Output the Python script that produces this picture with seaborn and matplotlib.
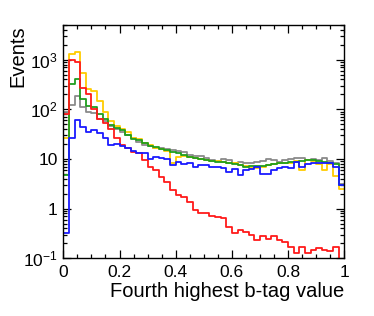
import numpy as np
import pandas as pd
import matplotlib
matplotlib.use("Agg")
import matplotlib.pyplot as plt
import matplotlib.ticker as mticker
import seaborn as sns

# 50 bins of width 0.02 on [0, 1]
edges = np.linspace(0.0, 1.0, 51)
centers = 0.5 * (edges[:-1] + edges[1:])

red = [80, 980, 910, 265, 204, 100, 64, 54, 40, 26,
       19, 17, 14, 13, 9.5, 7.0, 6.0, 4.4, 3.5, 2.4,
       1.9, 1.75, 1.38, 0.94, 0.83, 0.80, 0.71, 0.69, 0.64, 0.43,
       0.32, 0.37, 0.34, 0.30, 0.23, 0.28, 0.25, 0.28, 0.23, 0.21,
       0.17, 0.13, 0.17, 0.13, 0.15, 0.16, 0.15, 0.14, 0.17, 0.01]

yellow = [26, 1280, 1430, 547, 256, 234, 149, 90, 58, 46,
          40, 35, 27, 25, 21, 19, 16.4, 15.6, 14.7, 8.5,
          11, 11.5, 11, 10.5, 10, 9.5, 9, 9, 8.8, 8.5,
          8.2, 7.5, 7.2, 6.5, 6.5, 7.0, 7.5, 8.0, 8.5, 8.2,
          8.5, 9.0, 6.0, 9.7, 9.0, 8.0, 6.0, 8.0, 4.5, 2.5]

green = [4.8, 324, 402, 161, 117, 110, 79, 64, 48, 43,
         38, 31, 25, 24, 21, 18.5, 17.7, 15.9, 15.2, 14,
         13.4, 12, 11.1, 10.3, 9.8, 9.5, 9.3, 8.8, 8.8, 8.2,
         8.0, 7.6, 7.0, 7.2, 7.2, 7.3, 7.6, 7.8, 8.2, 8.4,
         8.8, 8.8, 9.3, 9.5, 9.5, 9.3, 8.8, 8.4, 8.0, 3.0]

gray = [90, 120, 190, 110, 90, 83, 63, 57, 46, 41,
        35, 30, 26, 22, 19, 18, 17, 16.4, 15.6, 15.2,
        14.7, 14, 12, 11.5, 11.5, 10.3, 9.5, 9.3, 9.8, 9.5,
        8.4, 8.8, 8.2, 8.4, 8.8, 9.3, 9.8, 9.5, 8.8, 9.5,
        9.8, 10.3, 10.6, 9.5, 9.8, 9.5, 10.7, 9.3, 8.4, 3.1]

blue = [0.33, 27, 61, 45, 35, 38, 33, 27, 19, 20,
        18, 16.4, 14.5, 13.4, 13, 9.8, 11, 10.3, 9.8, 7.6,
        8.8, 8.0, 8.4, 7.0, 7.6, 7.6, 6.8, 7.0, 6.5, 5.5,
        6.2, 4.8, 6.0, 6.2, 6.8, 5.0, 5.0, 6.0, 6.5, 7.0,
        6.5, 8.8, 7.0, 8.0, 8.2, 8.2, 8.2, 8.4, 7.0, 3.0]

series = [
    (gray, "#8a8a8a"),
    (yellow, "#ffcc00"),
    (green, "#1f9e1f"),
    (red, "#ff1a1a"),
    (blue, "#1a1aff"),
]

ytick_vals = [0.1, 1, 10, 100, 1000]
ytick_labels = [r"$10^{-1}$", "1", "10", r"$10^{2}$", r"$10^{3}$"]
xtick_vals = [0, 0.2, 0.4, 0.6, 0.8, 1.0]
xtick_labels = ["0", "0.2", "0.4", "0.6", "0.8", "1"]

sns.set_style("ticks")
plt.rcParams["font.family"] = ["Liberation Sans", "DejaVu Sans"]
plt.rcParams["mathtext.default"] = "regular"
plt.rcParams["text.color"] = "black"
plt.rcParams["axes.labelcolor"] = "black"
plt.rcParams["xtick.color"] = "black"
plt.rcParams["ytick.color"] = "black"

fig = plt.figure(figsize=(3.74, 3.16), dpi=100)
ax = fig.add_axes([63.3 / 374, 1 - 258.3 / 316, 281 / 374, 233.3 / 316])
ax.set_yscale("log")

for vals, col in series:
    df = pd.DataFrame({"x": centers, "w": vals})
    sns.histplot(data=df, x="x", weights="w", bins=list(edges), element="step", fill=False,
                 color=col, linewidth=1.3, ax=ax)

ax.set_xlim(0, 1)
ax.set_ylim(0.1, 5000)

ax.set_xticks(xtick_vals)
ax.set_xticklabels(xtick_labels)
ax.xaxis.set_minor_locator(mticker.MultipleLocator(0.05))
ax.set_yticks(ytick_vals)
ax.set_yticklabels(ytick_labels)
ax.yaxis.set_minor_locator(mticker.LogLocator(base=10, subs=np.arange(2, 10)))
ax.yaxis.set_minor_formatter(mticker.NullFormatter())

ax.tick_params(which="both", direction="in", top=True, right=True, colors="black",
               labelcolor="black", width=0.9, labelsize=12.5)
ax.tick_params(which="major", length=6)
ax.tick_params(which="minor", length=3)
ax.tick_params(axis="x", pad=5)
ax.tick_params(axis="y", pad=4)
for sp in ax.spines.values():
    sp.set_visible(True)
    sp.set_color("black")
    sp.set_linewidth(1.0)

ax.set_ylabel("Events", loc="top", fontsize=14.5, color="black")
ax.yaxis.set_label_coords(-0.128, 1.0)
ax.set_xlabel("Fourth highest b-tag value", loc="right", fontsize=14.5, color="black")
ax.xaxis.set_label_coords(1.0, -0.1)

fig.savefig("out.png", dpi=100, facecolor="white")
